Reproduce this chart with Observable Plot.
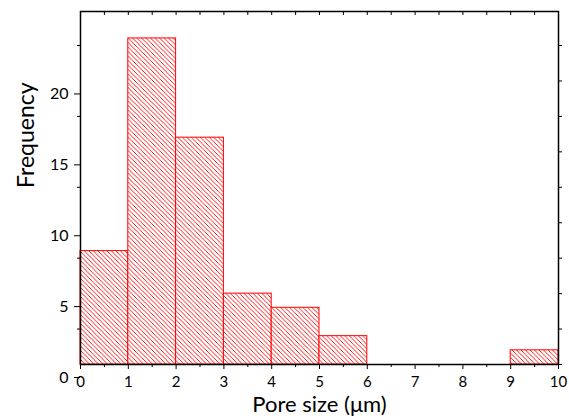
<!DOCTYPE html>
<html>
<head>
<meta charset="utf-8">
<script src="https://cdn.jsdelivr.net/npm/d3@7"></script>
<script src="https://cdn.jsdelivr.net/npm/@observablehq/plot@0.6"></script>
<style>
  body { margin: 0; background: #fff; }
  svg { font-family: Lato, "Open Sans", sans-serif; }
</style>
</head>
<body>
<div id="chart"></div>
<script>
const binStart = [0, 1, 2, 3, 4, 5, 6, 7, 8, 9];
const binEnd   = [1, 2, 3, 4, 5, 6, 7, 8, 9, 10];
const frequency = [8, 23, 16, 5, 4, 2, 0, 0, 0, 1];
const xTicks = [0, 1, 2, 3, 4, 5, 6, 7, 8, 9, 10];
const xMinor = [0.5, 1.5, 2.5, 3.5, 4.5, 5.5, 6.5, 7.5, 8.5, 9.5];
const yTicks = [0, 5, 10, 15, 20];
const yMinor = [2.5, 7.5, 12.5, 17.5, 22.5];

const bins = binStart.map((s, i) => ({x1: s, x2: binEnd[i], y: frequency[i]})).filter(d => d.y > 0);

const chart = Plot.plot({
  width: 569,
  height: 419,
  marginLeft: 80,
  marginRight: 11,
  marginTop: 11,
  marginBottom: 55,
  style: {fontFamily: "Lato, 'Open Sans', sans-serif", background: "#fff", overflow: "visible"},
  x: {domain: [0, 10]},
  y: {domain: [0, 24.9]},
  marks: [
    Plot.rectY(bins, {x1: "x1", x2: "x2", y: "y", fill: "url(#hatch)", stroke: "#ff0000", strokeWidth: 1}),
    Plot.frame({stroke: "#000", strokeWidth: 1.5}),
    Plot.axisX({ticks: xTicks, tickSize: 5, tickPadding: 7, fontSize: 15, label: null, stroke: "#000", color: "#000"}),
    Plot.axisX({ticks: xMinor, tickSize: 3, text: null, label: null, stroke: "#000"}),
    Plot.axisX({anchor: "top", ticks: xTicks.concat(xMinor), tickSize: -3, text: null, label: null, stroke: "#000"}),
    Plot.axisY({ticks: yTicks, tickSize: 6, tickPadding: 6, fontSize: 16, dy: 13, label: null, stroke: "#000", color: "#000"}),
    Plot.axisY({ticks: yMinor, tickSize: 3, text: null, label: null, stroke: "#000"}),
    Plot.axisY({anchor: "right", ticks: yTicks.concat(yMinor), tickSize: 3, text: null, label: null, stroke: "#000"}),
    Plot.text(["Pore size (μm)"], {frameAnchor: "bottom", dy: 47, fontSize: 22, fill: "#000"}),
    Plot.text(["Frequency"], {frameAnchor: "left", dx: -54, rotate: -90, fontSize: 23, fill: "#000"})
  ]
});

const ns = "http://www.w3.org/2000/svg";
const defs = document.createElementNS(ns, "defs");
defs.innerHTML = `<pattern id="hatch" patternUnits="userSpaceOnUse" width="4.5" height="4.5">
  <rect width="4.5" height="4.5" fill="#fff"></rect>
  <path d="M-1,-1 L5.5,5.5 M-1,3.5 L1,5.5 M3.5,-1 L5.5,1" stroke="#ff0000" stroke-width="1" shape-rendering="crispEdges"></path>
</pattern>`;
chart.insertBefore(defs, chart.firstChild);
document.getElementById("chart").appendChild(chart);
</script>
</body>
</html>
